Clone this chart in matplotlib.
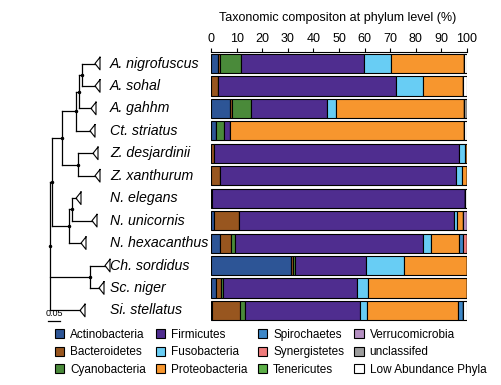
# Composición taxonómica a nivel de filo, con el árbol de especies a la izquierda
import matplotlib
matplotlib.use("Agg")
import matplotlib.pyplot as plt
from matplotlib.patches import Patch

plt.rcParams['font.family'] = ['Liberation Sans', 'DejaVu Sans']

especies = ["A. nigrofuscus", "A. sohal", "A. gahhm", "Ct. striatus",
            "Z. desjardinii", "Z. xanthurum", "N. elegans", "N. unicornis",
            "N. hexacanthus", "Ch. sordidus", "Sc. niger", "Si. stellatus"]

filos = ["Actinobacteria", "Bacteroidetes", "Cyanobacteria", "Firmicutes",
         "Fusobacteria", "Proteobacteria", "Spirochaetes", "Synergistetes",
         "Tenericutes", "Verrucomicrobia", "unclassifed", "Low Abundance Phyla"]

colores = ["#2d5596", "#98561f", "#4a8a3a", "#4f2d8f", "#68cdf4", "#f7962e",
           "#3d87c7", "#ef7b7b", "#5caf48", "#b48fc1", "#9c9c9c", "#ffffff"]

# % por filo, una lista por filo en el orden de las especies
actino   = [2.6, 0.0, 7.6, 2.0, 0.0, 0.0, 0.4, 1.3, 3.5, 31.3, 2.0, 0.4]
bactero  = [1.0, 2.6, 0.5, 0.0, 1.0, 3.5, 0.0, 9.5, 4.3, 0.6, 2.0, 11.0]
ciano    = [8.1, 0.0, 7.6, 2.9, 0.0, 0.0, 0.0, 0.0, 1.7, 0.9, 0.6, 2.0]
firmi    = [47.9, 69.5, 29.5, 2.7, 95.7, 92.2, 99.0, 84.1, 73.2, 27.8, 52.3, 44.7]
fuso     = [10.6, 10.8, 3.8, 0.0, 2.7, 2.2, 0.0, 1.0, 3.3, 14.6, 4.6, 3.0]
proteo   = [28.6, 15.7, 49.7, 91.4, 0.6, 2.1, 0.0, 2.6, 10.7, 24.8, 38.5, 35.3]
espiro   = [0.0, 0.0, 0.0, 0.0, 0.0, 0.0, 0.0, 0.0, 1.6, 0.0, 0.0, 2.0]
synerg   = [0.0, 0.0, 0.0, 0.0, 0.0, 0.0, 0.0, 0.0, 1.7, 0.0, 0.0, 0.0]
teneri   = [0.0, 0.0, 0.0, 0.0, 0.0, 0.0, 0.0, 0.0, 0.0, 0.0, 0.0, 0.0]
verruco  = [0.0, 0.0, 0.0, 0.0, 0.0, 0.0, 0.0, 1.5, 0.0, 0.0, 0.0, 0.0]
unclas   = [0.0, 0.0, 1.3, 0.0, 0.0, 0.0, 0.0, 0.0, 0.0, 0.0, 0.0, 0.0]
baja_ab  = [1.2, 1.4, 0.0, 1.0, 0.0, 0.0, 0.6, 0.0, 0.0, 0.0, 0.0, 1.6]

valores = [actino, bactero, ciano, firmi, fuso, proteo, espiro, synerg,
           teneri, verruco, unclas, baja_ab]

# árbol: profundidad de cada hoja (longitud de rama) y nodos internos
prof_hojas = [0.225, 0.225, 0.205, 0.20, 0.215, 0.225, 0.13, 0.21, 0.155,
              0.275, 0.245, 0.15]
nodos = [  # (nombre, profundidad, hijos)
    ("n_as", 0.16, ["A. nigrofuscus", "A. sohal"]),
    ("n_ag", 0.145, ["n_as", "A. gahhm"]),
    ("n_ac", 0.13, ["n_ag", "Ct. striatus"]),
    ("n_z", 0.14, ["Z. desjardinii", "Z. xanthurum"]),
    ("n_az", 0.06, ["n_ac", "n_z"]),
    ("n_ne", 0.11, ["N. elegans", "N. unicornis"]),
    ("n_n", 0.095, ["n_ne", "N. hexacanthus"]),
    ("n_top", 0.01, ["n_az", "n_n"]),
    ("n_cs", 0.20, ["Ch. sordidus", "Sc. niger"]),
    ("raiz", 0.0, ["n_top", "n_cs", "Si. stellatus"]),
]

fig = plt.figure(figsize=(5.01, 3.85), dpi=100)
abajo, alto = 1 - 321.7 / 385, 269.4 / 385
ax = fig.add_axes([211 / 501, abajo, 256 / 501, alto])
axt = fig.add_axes([0, abajo, 210 / 501, alto])

# barras apiladas
y = list(range(len(especies)))
izq = [0.0] * len(especies)
for nombre, vals, col in zip(filos, valores, colores):
    ax.barh(y, vals, left=izq, height=0.85, color=col, edgecolor="black",
            linewidth=0.8)
    izq = [a + b for a, b in zip(izq, vals)]

ax.set_xlim(0, 100)
ax.set_ylim(11.5, -0.5)
ax.set_xticks(range(0, 101, 10))
ax.xaxis.tick_top()
ax.tick_params(axis='x', labelsize=9, length=3, pad=2)
ax.set_yticks([])
for s in ["left", "right", "bottom"]:
    ax.spines[s].set_visible(False)
ax.spines["top"].set_linewidth(0.8)
fig.text(338 / 501, 1 - 18 / 385, "Taxonomic compositon at phylum level (%)",
         ha="center", va="center", fontsize=9)

# dibujo del árbol
pos_y = {e: i for i, e in enumerate(especies)}
prof = {e: d for e, d in zip(especies, prof_hojas)}
for nombre, d, hijos in nodos:
    pos_y[nombre] = (pos_y[hijos[0]] + pos_y[hijos[-1]]) / 2
    prof[nombre] = d
for nombre, d, hijos in nodos:
    ys = [pos_y[h] for h in hijos]
    axt.plot([d, d], [min(ys), max(ys)], color="black", lw=0.9)
    for h in hijos:
        axt.plot([d, prof[h]], [pos_y[h], pos_y[h]], color="black", lw=0.9)
    axt.plot(d, pos_y[nombre], "o", color="black", ms=1.5)

for i, e in enumerate(especies):
    d = prof[e]
    axt.plot([d + 0.025, d, d + 0.025, d + 0.025],
             [i - 0.28, i, i + 0.28, i - 0.28], color="black", lw=0.8)
    axt.text(0.30, i, e, style="italic", fontsize=10.2, va="center", ha="left")

# barra de escala
axt.plot([-0.01, 0.05], [11.45, 11.45], color="black", lw=0.9, clip_on=False)
axt.text(0.02, 11.35, "0.05", fontsize=6.5, ha="center", va="bottom")
axt.set_xlim(-0.25, 0.80)
axt.set_ylim(11.5, -0.5)
axt.axis("off")

manejadores = [Patch(facecolor=c, edgecolor="black", linewidth=0.8)
               for c in colores]
fig.legend(manejadores, filos, ncol=4, loc="upper left",
           bbox_to_anchor=(49 / 501, 1 - 323 / 385), frameon=False,
           fontsize=8.5, handlelength=0.8, handleheight=0.8, handletextpad=0.5,
           columnspacing=0.85, labelspacing=0.45, borderpad=0)

fig.savefig("out.png", dpi=100)
